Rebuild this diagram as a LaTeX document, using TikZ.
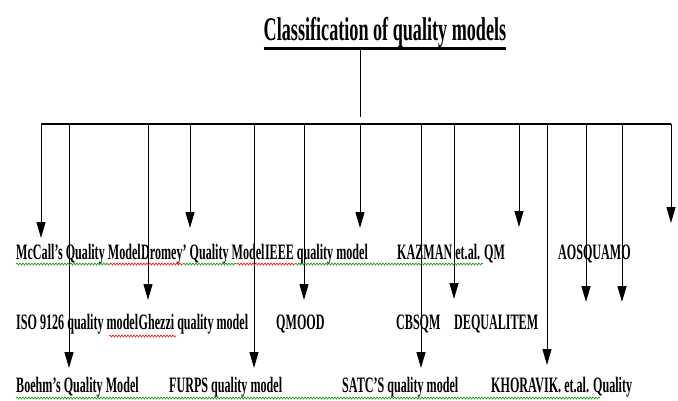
\documentclass[tikz,border=0pt]{standalone}
\usepackage{fontspec}
\setmainfont{Liberation Serif}[FakeStretch=0.55]
\usetikzlibrary{arrows.meta,decorations.pathmorphing}

\begin{document}
\begin{tikzpicture}[x=1pt, y=-1pt]
  \tikzstyle{model} = [inner sep=0pt, anchor=base west, font=\bfseries\fontsize{22}{26}\selectfont]
  \tikzstyle{drop} = [-{Triangle[length=16pt,width=9pt]}, line width=1pt]
  \tikzstyle{spell} = [decorate, decoration={snake, amplitude=1pt, segment length=3pt}, line width=0.6pt]
  \useasboundingbox (0,0) rectangle (678,400);

  \node [inner sep=0pt, anchor=base, font=\bfseries\fontsize{33}{38}\selectfont] (title) at (385,40) {Classification of quality models};
  \coordinate (hub) at (360,117);
  \draw [line width=1pt] (title.south -| hub) -- (hub);
  \draw [line width=3pt] ([yshift=-8pt]title.base west) -- ([yshift=-8pt]title.base east);

  \node [model] (mccall) at (16,259) {McCall's Quality Model};
  \node [model] (dromey) at (mccall.base east) {Dromey' Quality Model};
  \node [model] (ieee) at (dromey.base east) {IEEE quality model};
  \node [model] (kazman) at (397,259) {KAZMAN et.al. QM};
  \node [model] (aosquamo) at (558,259) {AOSQUAMO};
  \node [model] (iso) at (16,329) {ISO 9126 quality model};
  \node [model] (ghezzi) at (iso.base east) {Ghezzi quality model};
  \node [model] (qmood) at (276,329) {QMOOD};
  \node [model] (cbsqm) at (396,329) {CBSQM};
  \node [model] (dequalitem) at (454,329) {DEQUALITEM};
  \node [model] (boehm) at (16,392) {Boehm's Quality Model};
  \node [model] (furps) at (169,392) {FURPS quality model};
  \node [model] (satc) at (342,392) {SATC'S quality model};
  \node [model] (khoravik) at (491,392) {KHORAVIK. et.al. Quality};

  \foreach \x/\t [count=\i] in {41/238, 69/368, 148/300, 190/228, 254/368, 304/300, 360/228,
                                421/368, 454/299, 519/227, 547/365, 586/302, 622/302, 671/223} {
    \coordinate (top\i) at (\x,124);
    \coordinate (tip\i) at (\x,\t);
    \draw [drop] (top\i) -- (tip\i);
  }
  \draw [line width=2.5pt] (top1) -- (top14);

  \draw [spell, green!60!black] (16,264) -- (110,264);
  \draw [spell, red] (110,264) -- (183,264);
  \draw [spell, green!60!black] (183,264) -- (237,264);
  \draw [spell, red] (237,264) -- (295,264);
  \draw [spell, green!60!black] (295,264) -- (483,264);
  \draw [spell, red] (109,336) -- (176,336);
  \draw [spell, green!60!black] (16,398) -- (600,398);
\end{tikzpicture}
\end{document}
